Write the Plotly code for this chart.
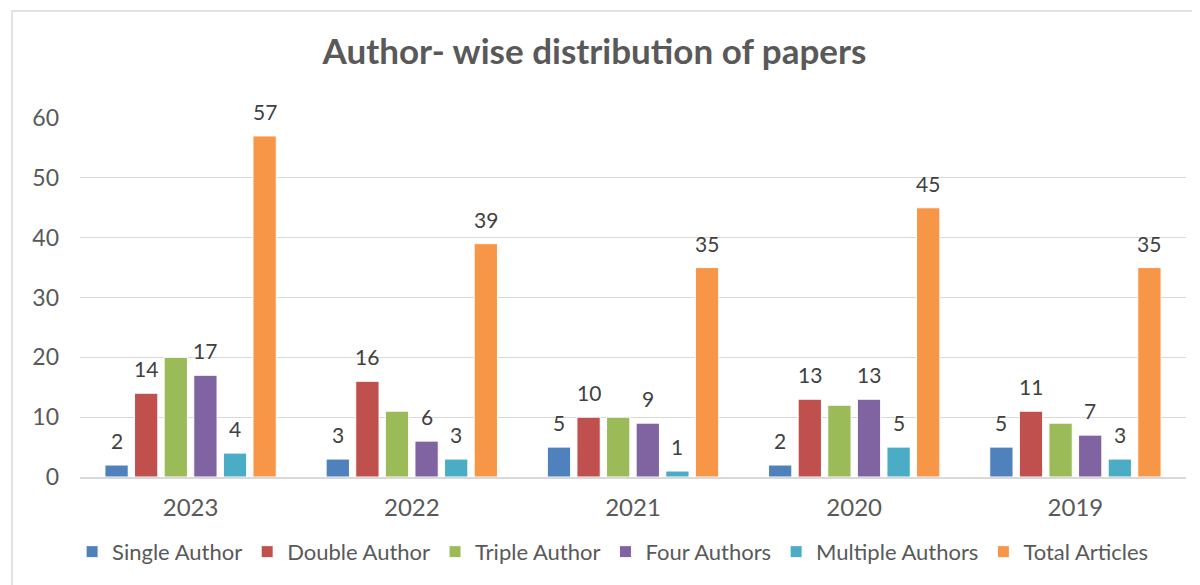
import plotly.graph_objects as go

years = ["2023", "2022", "2021", "2020", "2019"]
single_author = [2, 3, 5, 2, 5]
double_author = [14, 16, 10, 13, 11]
triple_author = [20, 11, 10, 12, 9]
four_authors = [17, 6, 9, 13, 7]
multiple_authors = [4, 3, 1, 5, 3]
total_articles = [57, 39, 35, 45, 35]

series = [
    ("Single Author", single_author, "#4F81BD", True),
    ("Double Author", double_author, "#C0504D", True),
    ("Triple Author", triple_author, "#9BBB59", False),
    ("Four Authors", four_authors, "#8064A2", True),
    ("Multiple Authors", multiple_authors, "#4BACC6", True),
    ("Total Articles", total_articles, "#F79646", True),
]

FONT = "Lato, Calibri, Carlito, sans-serif"

# page body has an 8px margin, so the figure is drawn 8px in from the window edge
W, H = 1192, 577
L, T = 72, 110
PR, PB = 1178, 469  # plot right / bottom in figure coords
BARGAP = 0.197
n_series = len(series)
cat_px = (PR - L) / len(years)
slot_px = cat_px * (1 - BARGAP) / n_series

fig = go.Figure()
annotations = []
for i, (name, vals, color, show_label) in enumerate(series):
    fig.add_trace(go.Bar(
        name=name, x=years, y=vals,
        marker=dict(color=color, line=dict(color="white", width=1)),
        hoverinfo="x+y+name",
    ))
    if show_label:
        for j, v in enumerate(vals):  # j = category index on the category axis
            annotations.append(dict(
                x=j, y=v, xref="x", yref="y", text=str(v), showarrow=False,
                xanchor="center", yanchor="bottom",
                xshift=(i - (n_series - 1) / 2) * slot_px, yshift=10,
                font=dict(family=FONT, size=21, color="#404040"),
            ))

fig.update_layout(
    width=W, height=H,
    paper_bgcolor="white", plot_bgcolor="white",
    margin=dict(l=L, r=W - PR, t=T, b=H - PB),
    barmode="group", bargap=BARGAP, bargroupgap=0.213,
    title=dict(text="<b>Author- wise distribution of papers</b>",
               x=0.492, xanchor="center", y=1 - 44 / H, yanchor="middle",
               font=dict(family=FONT, size=35, color="#595959")),
    legend=dict(orientation="h", x=0.482, xanchor="center", y=-0.15, yanchor="top",
                font=dict(family=FONT, size=22, color="#595959"),
                itemwidth=30, traceorder="normal"),
    font=dict(family=FONT, color="#595959"),
    showlegend=True,
    annotations=annotations,
)
fig.update_xaxes(
    type="category", categoryorder="array", categoryarray=years,
    range=[-0.5, len(years) - 0.5],
    showgrid=False, showline=True, linecolor="#D9D9D9", linewidth=1.5,
    tickfont=dict(family=FONT, size=24, color="#595959"), ticks="",
    ticklabelstandoff=8,
)
fig.update_yaxes(
    range=[0, 60], dtick=10, showgrid=True, gridcolor="#D9D9D9", gridwidth=1.2,
    zeroline=False, showline=False,
    tickfont=dict(family=FONT, size=23, color="#595959"), ticks="",
    ticklabelstandoff=20,
)
fig.add_shape(type="rect", xref="paper", yref="paper",
              x0=(4 - L) / (PR - L), x1=1.2, y0=-0.6, y1=(PB - 3) / (PB - T),
              line=dict(color="#D9D9D9", width=1.5), fillcolor="rgba(0,0,0,0)", layer="below")

fig.write_html("out.html")
